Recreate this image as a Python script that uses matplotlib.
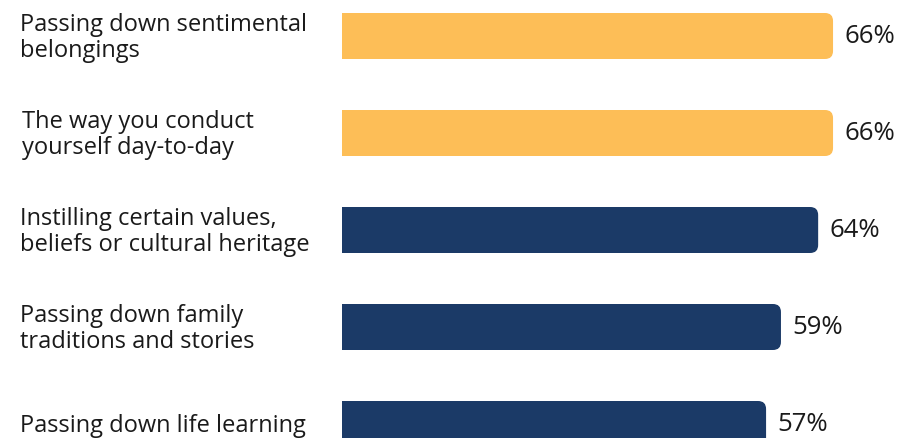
import matplotlib
matplotlib.use("Agg")
import matplotlib.pyplot as plt
from matplotlib.patches import FancyBboxPatch, Rectangle

# survey answers, top to bottom
labels = [
    "Passing down sentimental\nbelongings",
    "The way you conduct\nyourself day-to-day",
    "Instilling certain values,\nbeliefs or cultural heritage",
    "Passing down family\ntraditions and stories",
    "Passing down life learning",
]
values = [66, 66, 64, 59, 57]
colors = ["#FDBE57", "#FDBE57", "#1B3A67", "#1B3A67", "#1B3A67"]
label_x = [20, 22, 20, 20, 20]

W, H = 904, 439
fig = plt.figure(figsize=(W / 100, H / 100), dpi=100)
plt.rcParams["font.family"] = ["Open Sans", "DejaVu Sans"]

# axes area starts where the bars start
left_px = 342
ax = fig.add_axes([left_px / W, 0, 1 - left_px / W, 1])
px_per_pct = 7.44
pitch = 97
ax.set_xlim(0, (W - left_px) / px_per_pct)
ax.set_ylim((H - 37) / pitch, -37 / pitch)
ax.axis("off")

bar_h = 46 / pitch
radius = 8 / px_per_pct
aspect = px_per_pct / pitch

bars = ax.barh(range(len(values)), values, height=bar_h, color="none")
for b, c, v, lab, lx in zip(bars, colors, values, labels, label_x):
    x0, y0, w, h = b.get_x(), b.get_y(), b.get_width(), b.get_height()
    # rounded right end, square left end
    ax.add_patch(FancyBboxPatch((x0, y0), w, h,
                                boxstyle=f"round,pad=0,rounding_size={radius}",
                                mutation_aspect=aspect, fc=c, ec="none"))
    ax.add_patch(Rectangle((x0, y0), w - 2 * radius, h, fc=c, ec="none"))
    yc = y0 + h / 2
    ax.text(w + 11 / px_per_pct, yc, f"{v}%", va="center", ha="left",
            fontsize=18.5, color="#1a1a1a")
    fig.text(lx / W, 1 - (yc * pitch + 38) / H, lab, va="center", ha="left",
             fontsize=17, color="#1a1a1a", linespacing=1.15)

fig.savefig("out.png", dpi=100)
